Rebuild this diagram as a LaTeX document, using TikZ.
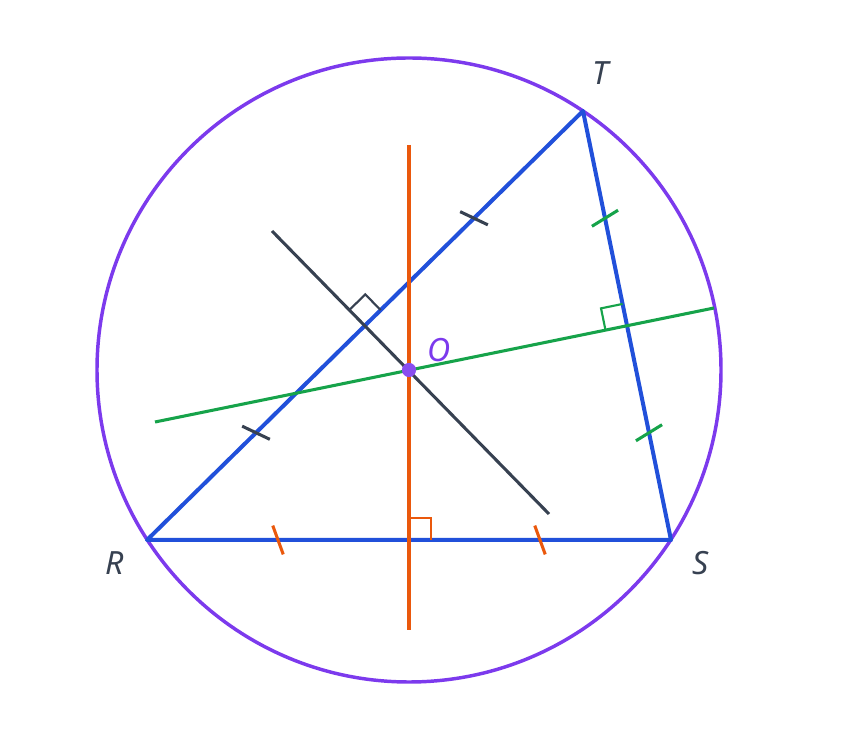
\documentclass[tikz,border=0pt]{standalone}
\usepackage{fontspec}
\setmainfont{Noto Sans}
\usetikzlibrary{calc}

\definecolor{circpurple}{HTML}{7C3AED}
\definecolor{sideblue}{HTML}{2150DA}
\definecolor{bisorange}{HTML}{EA580C}
\definecolor{bisgreen}{HTML}{16A34A}
\definecolor{bisgray}{HTML}{374151}

\tikzset{
  bisector/.style={line width=2.3pt},
  anglemark/.style={line width=1.6pt},
  tickmark/.style={line width=2.3pt},
  vlabel/.style={text=bisgray, font=\fontsize{24}{28}\selectfont\itshape}
}

% tick across segment #2--#3 at position #4
\newcommand{\sidetick}[4]{
  \coordinate (tk) at ($(#2)!#4!(#3)$);
  \draw[tickmark,#1] ($(tk)!11.5pt!-70:(#3)$) -- ($(tk)!11.5pt!110:(#3)$);
}
% right angle square at foot #2, along #3 and #4
\newcommand{\rtanglemark}[4]{
  \coordinate (ra) at ($(#2)!16.5pt!(#3)$);
  \coordinate (rb) at ($(#2)!16.5pt!(#4)$);
  \draw[anglemark,#1] (ra) -- ($(ra)+(rb)-(#2)$) -- (rb);
}

\begin{document}
\begin{tikzpicture}[x=0.75pt,y=-0.75pt]
  \useasboundingbox (0,0) rectangle (843,730);

  \coordinate (R) at (147,540);
  \coordinate (S) at (671,540);
  \coordinate (T) at (583,111);
  \coordinate (O) at (409,370);
  \coordinate (mRS) at ($(R)!0.5!(S)$);
  \coordinate (mRT) at ($(R)!0.5!(T)$);
  \coordinate (mST) at ($(S)!0.5!(T)$);
  \coordinate (orTop) at (409,145);
  \coordinate (orBot) at (409,630);
  \coordinate (grA) at (272,231);
  \coordinate (grB) at (549,514);
  \coordinate (gnA) at (155,422);
  \coordinate (gnB) at (714,308);

  \draw[circpurple, line width=2.6pt] (O) circle (234pt); % circumcircle
  \draw[sideblue, line width=3pt, line join=round] (R) -- (S) -- (T) -- cycle; % triangle

  \draw[bisector, bisgreen] (gnA) -- (gnB); % bisector of ST
  \draw[bisector, bisgray] (grA) -- (grB); % bisector of RT
  \draw[bisector, bisorange] (orTop) -- (orBot); % bisector of RS

  \rtanglemark{bisorange}{mRS}{orTop}{S}
  \rtanglemark{bisgray}{mRT}{grA}{T}
  \rtanglemark{bisgreen}{mST}{gnA}{T}

  \sidetick{bisorange}{R}{S}{0.25}
  \sidetick{bisorange}{R}{S}{0.75}
  \sidetick{bisgray}{R}{T}{0.25}
  \sidetick{bisgray}{R}{T}{0.75}
  \sidetick{bisgreen}{S}{T}{0.25}
  \sidetick{bisgreen}{S}{T}{0.75}

  \fill[circpurple!90!white] (O) circle (5.3pt); % center

  \node[vlabel] (labT) at (601,73) {T};
  \node[vlabel] (labR) at (115,563) {R};
  \node[vlabel] (labS) at (701,563) {S};
  \node[vlabel, text=circpurple] (labO) at (439,350) {O};
\end{tikzpicture}
\end{document}
